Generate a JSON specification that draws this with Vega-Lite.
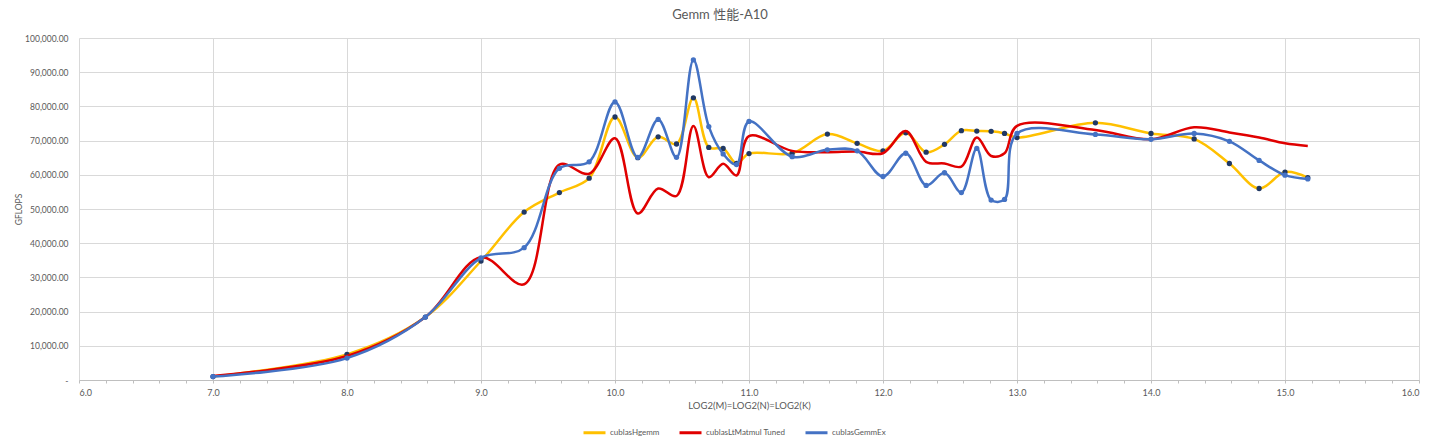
{
  "$schema": "https://vega.github.io/schema/vega-lite/v6.json",
  "description": "Gemm performance on A10: cublasHgemm vs cublasLtMatmul Tuned vs cublasGemmEx",
  "width": 1340,
  "height": 342,
  "autosize": "none",
  "padding": {"left": 79, "top": 38, "right": 21, "bottom": 66},
  "background": "white",
  "title": {
    "text": "Gemm 性能-A10",
    "font": "Lato, Noto Sans CJK SC",
    "fontSize": 13,
    "fontWeight": "normal",
    "color": "#595959",
    "dx": -29,
    "offset": 12
  },
  "data": {
    "values": [
      {"x": 7.0, "series": "cublasHgemm", "gflops": 1000},
      {"x": 8.0, "series": "cublasHgemm", "gflops": 7500},
      {"x": 8.585, "series": "cublasHgemm", "gflops": 18400},
      {"x": 9.0, "series": "cublasHgemm", "gflops": 34800},
      {"x": 9.322, "series": "cublasHgemm", "gflops": 49100},
      {"x": 9.585, "series": "cublasHgemm", "gflops": 54800},
      {"x": 9.807, "series": "cublasHgemm", "gflops": 59000},
      {"x": 10.0, "series": "cublasHgemm", "gflops": 76900},
      {"x": 10.17, "series": "cublasHgemm", "gflops": 65000},
      {"x": 10.322, "series": "cublasHgemm", "gflops": 71100},
      {"x": 10.459, "series": "cublasHgemm", "gflops": 69000},
      {"x": 10.585, "series": "cublasHgemm", "gflops": 82500},
      {"x": 10.7, "series": "cublasHgemm", "gflops": 68000},
      {"x": 10.807, "series": "cublasHgemm", "gflops": 67700},
      {"x": 10.907, "series": "cublasHgemm", "gflops": 63300},
      {"x": 11.0, "series": "cublasHgemm", "gflops": 66200},
      {"x": 11.322, "series": "cublasHgemm", "gflops": 66300},
      {"x": 11.585, "series": "cublasHgemm", "gflops": 71900},
      {"x": 11.807, "series": "cublasHgemm", "gflops": 69200},
      {"x": 12.0, "series": "cublasHgemm", "gflops": 67000},
      {"x": 12.17, "series": "cublasHgemm", "gflops": 72300},
      {"x": 12.322, "series": "cublasHgemm", "gflops": 66600},
      {"x": 12.459, "series": "cublasHgemm", "gflops": 68900},
      {"x": 12.585, "series": "cublasHgemm", "gflops": 72900},
      {"x": 12.7, "series": "cublasHgemm", "gflops": 72800},
      {"x": 12.807, "series": "cublasHgemm", "gflops": 72700},
      {"x": 12.907, "series": "cublasHgemm", "gflops": 72100},
      {"x": 13.0, "series": "cublasHgemm", "gflops": 70900},
      {"x": 13.585, "series": "cublasHgemm", "gflops": 75200},
      {"x": 14.0, "series": "cublasHgemm", "gflops": 72100},
      {"x": 14.322, "series": "cublasHgemm", "gflops": 70500},
      {"x": 14.585, "series": "cublasHgemm", "gflops": 63300},
      {"x": 14.807, "series": "cublasHgemm", "gflops": 56000},
      {"x": 15.0, "series": "cublasHgemm", "gflops": 60800},
      {"x": 15.17, "series": "cublasHgemm", "gflops": 59200},

      {"x": 7.0, "series": "cublasLtMatmul Tuned", "gflops": 1200},
      {"x": 8.0, "series": "cublasLtMatmul Tuned", "gflops": 7000},
      {"x": 8.585, "series": "cublasLtMatmul Tuned", "gflops": 18400},
      {"x": 9.0, "series": "cublasLtMatmul Tuned", "gflops": 35900},
      {"x": 9.322, "series": "cublasLtMatmul Tuned", "gflops": 28000},
      {"x": 9.585, "series": "cublasLtMatmul Tuned", "gflops": 63000},
      {"x": 9.807, "series": "cublasLtMatmul Tuned", "gflops": 60300},
      {"x": 10.0, "series": "cublasLtMatmul Tuned", "gflops": 70700},
      {"x": 10.17, "series": "cublasLtMatmul Tuned", "gflops": 48700},
      {"x": 10.322, "series": "cublasLtMatmul Tuned", "gflops": 56000},
      {"x": 10.459, "series": "cublasLtMatmul Tuned", "gflops": 53800},
      {"x": 10.585, "series": "cublasLtMatmul Tuned", "gflops": 74300},
      {"x": 10.7, "series": "cublasLtMatmul Tuned", "gflops": 59300},
      {"x": 10.807, "series": "cublasLtMatmul Tuned", "gflops": 63200},
      {"x": 10.907, "series": "cublasLtMatmul Tuned", "gflops": 59800},
      {"x": 11.0, "series": "cublasLtMatmul Tuned", "gflops": 71300},
      {"x": 11.322, "series": "cublasLtMatmul Tuned", "gflops": 67000},
      {"x": 11.585, "series": "cublasLtMatmul Tuned", "gflops": 66600},
      {"x": 11.807, "series": "cublasLtMatmul Tuned", "gflops": 66800},
      {"x": 12.0, "series": "cublasLtMatmul Tuned", "gflops": 66300},
      {"x": 12.17, "series": "cublasLtMatmul Tuned", "gflops": 72800},
      {"x": 12.322, "series": "cublasLtMatmul Tuned", "gflops": 63800},
      {"x": 12.459, "series": "cublasLtMatmul Tuned", "gflops": 63300},
      {"x": 12.585, "series": "cublasLtMatmul Tuned", "gflops": 62400},
      {"x": 12.7, "series": "cublasLtMatmul Tuned", "gflops": 70900},
      {"x": 12.807, "series": "cublasLtMatmul Tuned", "gflops": 65500},
      {"x": 12.907, "series": "cublasLtMatmul Tuned", "gflops": 66300},
      {"x": 13.0, "series": "cublasLtMatmul Tuned", "gflops": 74300},
      {"x": 13.585, "series": "cublasLtMatmul Tuned", "gflops": 73100},
      {"x": 14.0, "series": "cublasLtMatmul Tuned", "gflops": 70400},
      {"x": 14.322, "series": "cublasLtMatmul Tuned", "gflops": 73900},
      {"x": 14.585, "series": "cublasLtMatmul Tuned", "gflops": 72400},
      {"x": 14.807, "series": "cublasLtMatmul Tuned", "gflops": 70900},
      {"x": 15.0, "series": "cublasLtMatmul Tuned", "gflops": 69200},
      {"x": 15.17, "series": "cublasLtMatmul Tuned", "gflops": 68400},

      {"x": 7.0, "series": "cublasGemmEx", "gflops": 1000},
      {"x": 8.0, "series": "cublasGemmEx", "gflops": 6400},
      {"x": 8.585, "series": "cublasGemmEx", "gflops": 18400},
      {"x": 9.0, "series": "cublasGemmEx", "gflops": 35700},
      {"x": 9.322, "series": "cublasGemmEx", "gflops": 38700},
      {"x": 9.585, "series": "cublasGemmEx", "gflops": 61900},
      {"x": 9.807, "series": "cublasGemmEx", "gflops": 63800},
      {"x": 10.0, "series": "cublasGemmEx", "gflops": 81300},
      {"x": 10.17, "series": "cublasGemmEx", "gflops": 65100},
      {"x": 10.322, "series": "cublasGemmEx", "gflops": 76200},
      {"x": 10.459, "series": "cublasGemmEx", "gflops": 65100},
      {"x": 10.585, "series": "cublasGemmEx", "gflops": 93600},
      {"x": 10.7, "series": "cublasGemmEx", "gflops": 74100},
      {"x": 10.807, "series": "cublasGemmEx", "gflops": 66100},
      {"x": 10.907, "series": "cublasGemmEx", "gflops": 63000},
      {"x": 11.0, "series": "cublasGemmEx", "gflops": 75600},
      {"x": 11.322, "series": "cublasGemmEx", "gflops": 65300},
      {"x": 11.585, "series": "cublasGemmEx", "gflops": 67300},
      {"x": 11.807, "series": "cublasGemmEx", "gflops": 67000},
      {"x": 12.0, "series": "cublasGemmEx", "gflops": 59500},
      {"x": 12.17, "series": "cublasGemmEx", "gflops": 66300},
      {"x": 12.322, "series": "cublasGemmEx", "gflops": 56900},
      {"x": 12.459, "series": "cublasGemmEx", "gflops": 60600},
      {"x": 12.585, "series": "cublasGemmEx", "gflops": 54800},
      {"x": 12.7, "series": "cublasGemmEx", "gflops": 67700},
      {"x": 12.807, "series": "cublasGemmEx", "gflops": 52600},
      {"x": 12.907, "series": "cublasGemmEx", "gflops": 52800},
      {"x": 13.0, "series": "cublasGemmEx", "gflops": 72100},
      {"x": 13.585, "series": "cublasGemmEx", "gflops": 71800},
      {"x": 14.0, "series": "cublasGemmEx", "gflops": 70400},
      {"x": 14.322, "series": "cublasGemmEx", "gflops": 72100},
      {"x": 14.585, "series": "cublasGemmEx", "gflops": 69800},
      {"x": 14.807, "series": "cublasGemmEx", "gflops": 64200},
      {"x": 15.0, "series": "cublasGemmEx", "gflops": 59900},
      {"x": 15.17, "series": "cublasGemmEx", "gflops": 58800}
    ]
  },
  "encoding": {
    "x": {
      "field": "x",
      "type": "quantitative",
      "title": "LOG2(M)=LOG2(N)=LOG2(K)",
      "scale": {"domain": [6, 16], "nice": false, "zero": false},
      "axis": {
        "values": [6, 6.2, 6.4, 6.6, 6.8, 7, 7.2, 7.4, 7.6, 7.8, 8, 8.2, 8.4, 8.6, 8.8, 9, 9.2, 9.4, 9.6, 9.8, 10, 10.2, 10.4, 10.6, 10.8, 11, 11.2, 11.4, 11.6, 11.8, 12, 12.2, 12.4, 12.6, 12.8, 13, 13.2, 13.4, 13.6, 13.8, 14, 14.2, 14.4, 14.6, 14.8, 15, 15.2, 15.4, 15.6, 15.8, 16],
        "labelExpr": "abs(datum.value - round(datum.value)) < 0.001 ? format(datum.value, '.1f') : ''",
        "gridOpacity": {"condition": {"test": "abs(datum.value - round(datum.value)) < 0.001", "value": 1}, "value": 0},
        "gridColor": "#D9D9D9",
        "domainColor": "#BFBFBF",
        "tickColor": "#BFBFBF",
        "tickSize": 3,
        "labelPadding": 5,
        "titlePadding": 3
      }
    },
    "y": {
      "field": "gflops",
      "type": "quantitative",
      "title": "GFLOPS",
      "scale": {"domain": [0, 100000], "nice": false},
      "axis": {
        "values": [0, 10000, 20000, 30000, 40000, 50000, 60000, 70000, 80000, 90000, 100000],
        "labelExpr": "datum.value == 0 ? '-' : format(datum.value, ',.2f')",
        "labelFontSize": 8.5,
        "gridColor": "#D9D9D9",
        "domain": false,
        "ticks": false,
        "labelPadding": 11,
        "titlePadding": 1,
        "titleFontSize": 8.5
      }
    },
    "color": {
      "field": "series",
      "type": "nominal",
      "scale": {
        "domain": ["cublasHgemm", "cublasLtMatmul Tuned", "cublasGemmEx"],
        "range": ["#FFC000", "#E00000", "#4472C4"]
      },
      "legend": {
        "orient": "none",
        "direction": "horizontal",
        "legendX": 503,
        "legendY": 382
      }
    }
  },
  "layer": [
    {
      "transform": [{"filter": "datum.series === 'cublasHgemm'"}],
      "mark": {"type": "line", "interpolate": "catmull-rom", "strokeWidth": 2.5}
    },
    {
      "transform": [{"filter": "datum.series === 'cublasHgemm'"}],
      "mark": {"type": "point", "filled": true, "size": 28, "opacity": 1},
      "encoding": {"color": {"value": "#203864"}}
    },
    {
      "transform": [{"filter": "datum.series === 'cublasLtMatmul Tuned'"}],
      "mark": {"type": "line", "interpolate": "catmull-rom", "strokeWidth": 2.5}
    },
    {
      "transform": [{"filter": "datum.series === 'cublasGemmEx'"}],
      "mark": {"type": "line", "interpolate": "catmull-rom", "strokeWidth": 2.5}
    },
    {
      "transform": [{"filter": "datum.series === 'cublasGemmEx'"}],
      "mark": {"type": "point", "filled": true, "size": 28, "opacity": 1},
      "encoding": {"color": {"value": "#4472C4"}}
    }
  ],
  "config": {
    "font": "Lato, Noto Sans CJK SC",
    "view": {"stroke": null},
    "axis": {
      "labelFont": "Lato",
      "labelFontSize": 9,
      "labelColor": "#595959",
      "titleFont": "Lato",
      "titleFontSize": 9.5,
      "titleFontWeight": "normal",
      "titleColor": "#595959"
    },
    "legend": {
      "title": null,
      "symbolType": "stroke",
      "symbolStrokeWidth": 3,
      "symbolSize": 484,
      "labelFont": "Lato",
      "labelFontSize": 8,
      "labelColor": "#595959",
      "labelOffset": 3,
      "columnPadding": 13
    }
  }
}
